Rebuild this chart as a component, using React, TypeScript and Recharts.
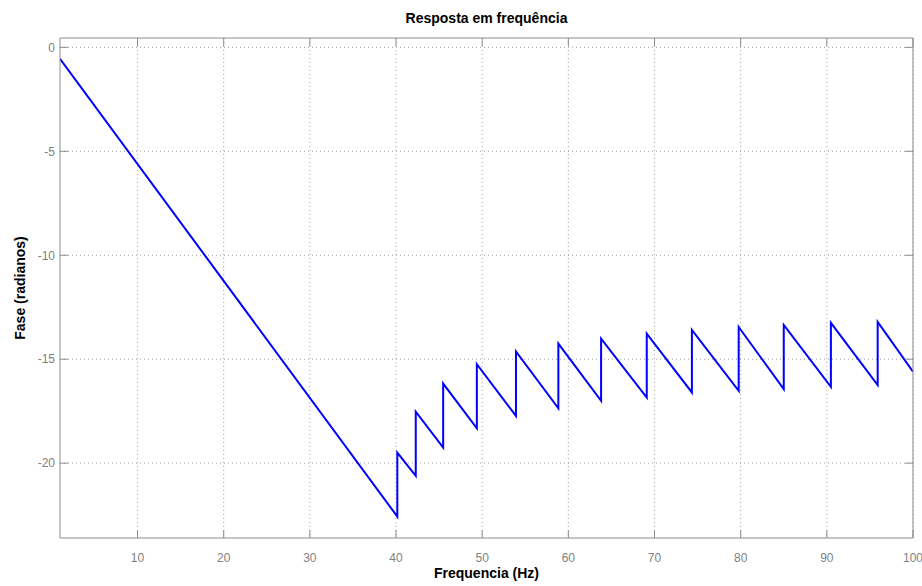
import { LineChart, Line, XAxis, YAxis, CartesianGrid, Label } from 'recharts'

// frequency (Hz) and unwrapped phase (rad)
const freq = [
  1, 40.15, 40.15, 42.29, 42.29, 45.47, 45.47, 49.38, 49.38, 53.92, 53.92,
  58.84, 58.84, 63.8, 63.8, 69.1, 69.1, 74.34, 74.34, 79.77, 79.77, 85.0, 85.0,
  90.47, 90.47, 95.9, 95.9, 100,
]
const phase = [
  -0.55, -22.57, -19.49, -20.61, -17.52, -19.25, -16.17, -18.32, -15.24,
  -17.73, -14.63, -17.36, -14.25, -17.0, -14.01, -16.85, -13.77, -16.6, -13.59,
  -16.52, -13.45, -16.44, -13.35, -16.33, -13.25, -16.24, -13.21, -15.6,
]
const xTicks = [10, 20, 30, 40, 50, 60, 70, 80, 90, 100]
const yTicks = [0, -5, -10, -15, -20]

const data = freq.map((f, i) => ({ f, p: phase[i] }))

const font = '"Liberation Sans", Arial, Helvetica, sans-serif'
const tickStyle = { fill: '#7f7f7f', fontSize: 12, fontFamily: font }
const axisColor = '#8c8c8c'
const labelStyle = { fill: '#000', fontSize: 14, fontWeight: 'bold', fontFamily: font }

const App = () => {
  return (
    <div style={{ position: 'absolute', left: 0, top: 0, background: '#fff' }}>
      <LineChart
        width={922}
        height={586}
        data={data}
        margin={{ top: 37, right: 8, left: 0, bottom: 18 }}
      >
        <CartesianGrid
          stroke="#a0a0a0"
          strokeDasharray="1 3"
          horizontalValues={yTicks}
          verticalValues={xTicks}
        />
        <XAxis
          dataKey="f"
          type="number"
          domain={[1, 100]}
          ticks={xTicks}
          allowDataOverflow
          height={30}
          tickSize={-8}
          tickMargin={23}
          tick={tickStyle}
          stroke={axisColor}
        >
          <Label value="Frequencia (Hz)" position="bottom" offset={0} style={labelStyle} />
        </XAxis>
        <XAxis
          xAxisId="top"
          orientation="top"
          dataKey="f"
          type="number"
          domain={[1, 100]}
          ticks={xTicks}
          allowDataOverflow
          height={1}
          tickSize={-8}
          tickFormatter={() => ''}
          stroke={axisColor}
        >
          <Label value="Resposta em frequência" position="top" offset={14} style={labelStyle} />
        </XAxis>
        <YAxis
          type="number"
          domain={[-23.6, 0.45]}
          ticks={yTicks}
          allowDataOverflow
          width={60}
          tickSize={-8}
          tickMargin={13}
          tick={tickStyle}
          stroke={axisColor}
        >
          <Label
            value="Fase (radianos)"
            angle={-90}
            position="insideLeft"
            offset={20}
            style={{ ...labelStyle, textAnchor: 'middle' }}
          />
        </YAxis>
        <YAxis
          yAxisId="right"
          orientation="right"
          type="number"
          domain={[-23.6, 0.45]}
          ticks={yTicks}
          allowDataOverflow
          width={1}
          tickSize={-8}
          tickFormatter={() => ''}
          stroke={axisColor}
        />
        <Line
          type="linear"
          dataKey="p"
          stroke="#0000ff"
          strokeWidth={2}
          dot={false}
          isAnimationActive={false}
        />
        <Line
          xAxisId="top"
          yAxisId="right"
          type="linear"
          dataKey="p"
          stroke="none"
          dot={false}
          legendType="none"
          isAnimationActive={false}
        />
      </LineChart>
    </div>
  )
}

export default App
